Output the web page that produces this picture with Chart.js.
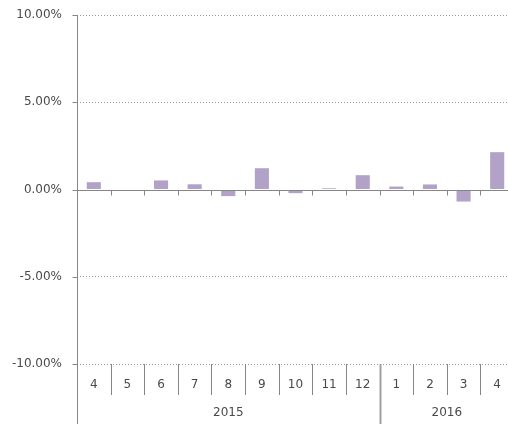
<!DOCTYPE html>
<html>
<head>
<meta charset="utf-8">
<script src="https://cdn.jsdelivr.net/npm/chart.js@4/dist/chart.umd.min.js"></script>
<style>
  html, body { margin: 0; padding: 0; background: #fff; overflow: hidden; }
  #wrap { width: 514px; height: 424px; }
</style>
</head>
<body>
<div id="wrap"><canvas id="chart"></canvas></div>
<script>
// data
const months = ['4', '5', '6', '7', '8', '9', '10', '11', '12', '1', '2', '3', '4'];
const years = ['2015', '2016'];
const yearSpans = [9, 4];
const values = [0.42, 0, 0.52, 0.30, -0.38, 1.22, -0.21, 0.07, 0.82, 0.17, 0.29, -0.69, 2.14];
const yTicks = [-10, -5, 0, 5, 10];

const AXIS = '#868686';
const TEXT = '#4a4a4a';

// category axis drawn by hand: Excel-style low labels with year groups
const excelAxis = {
    id: 'excelAxis',
    afterDatasetsDraw(chart) {
        const { ctx, chartArea, scales } = chart;
        const x = scales.x, y = scales.y;
        const y0 = Math.round(y.getPixelForValue(0)) + 0.5;
        const bottom = chartArea.bottom;
        const H = chart.height;
        const half = (x.getPixelForValue(1) - x.getPixelForValue(0)) / 2;
        ctx.save();
        ctx.strokeStyle = AXIS;
        ctx.lineWidth = 1;

        // zero line
        ctx.beginPath();
        ctx.moveTo(chartArea.left, y0);
        ctx.lineTo(chartArea.right, y0);
        ctx.stroke();

        // value axis line, runs down through the label area
        const xl = Math.round(chartArea.left) + 0.5;
        ctx.beginPath();
        ctx.moveTo(xl, chartArea.top);
        ctx.lineTo(xl, H);
        ctx.stroke();

        // y tick marks
        yTicks.forEach(v => {
            const py = Math.round(y.getPixelForValue(v)) + 0.5;
            ctx.beginPath();
            ctx.moveTo(xl - 5, py);
            ctx.lineTo(xl, py);
            ctx.stroke();
        });

        // tick marks at the zero line
        for (let i = 1; i < months.length; i++) {
            const px = Math.round(x.getPixelForValue(i) - half) + 0.5;
            ctx.beginPath();
            ctx.moveTo(px, y0);
            ctx.lineTo(px, y0 + 5);
            ctx.stroke();
        }

        ctx.font = '12px "DejaVu Sans"';
        ctx.fillStyle = TEXT;
        ctx.textAlign = 'center';
        ctx.textBaseline = 'middle';
        months.forEach((m, i) => {
            ctx.fillText(m, x.getPixelForValue(i), bottom + 21);
        });

        let idx = 0;
        yearSpans.forEach((n, g) => {
            const start = x.getPixelForValue(idx) - half;
            const end = x.getPixelForValue(idx + n - 1) + half;
            ctx.fillText(years[g], (start + end) / 2, bottom + 49);
            idx += n;
        });

        // month separators, the year boundary runs to the bottom
        for (let i = 1; i < months.length; i++) {
            const px = Math.round(x.getPixelForValue(i) - half) + 0.5;
            const isYear = i === yearSpans[0];
            ctx.strokeStyle = isYear ? '#a0a0a0' : AXIS;
            ctx.lineWidth = isYear ? 2 : 1;
            ctx.beginPath();
            ctx.moveTo(px, bottom);
            ctx.lineTo(px, isYear ? H : bottom + 31);
            ctx.stroke();
        }
        ctx.restore();
    }
};

new Chart(document.getElementById('chart'), {
    type: 'bar',
    data: {
        labels: months,
        datasets: [{
            data: values,
            backgroundColor: '#b3a2c7',
            borderWidth: 0,
            barPercentage: 0.42,
            categoryPercentage: 1
        }]
    },
    options: {
        responsive: true,
        maintainAspectRatio: false,
        animation: false,
        layout: { padding: { top: 15, bottom: 60, left: 0, right: 0 } },
        plugins: { legend: { display: false }, tooltip: { enabled: false } },
        scales: {
            x: { display: false },
            y: {
                min: -10,
                max: 10,
                afterFit: s => {
                    s.width = 77;
                    s.paddingTop = 0;
                    s.paddingBottom = 0;
                },
                afterBuildTicks: s => { s.ticks = yTicks.map(v => ({ value: v })); },
                border: { display: false, dash: [1, 2] },
                grid: {
                    color: c => c.tick && c.tick.value === 0 ? 'rgba(0,0,0,0)' : '#9a9a9a',
                    drawTicks: false
                },
                ticks: {
                    padding: 15,
                    color: TEXT,
                    font: { family: 'DejaVu Sans', size: 12 },
                    callback: v => v.toFixed(2) + '%'
                }
            }
        }
    },
    plugins: [excelAxis]
});
</script>
</body>
</html>
